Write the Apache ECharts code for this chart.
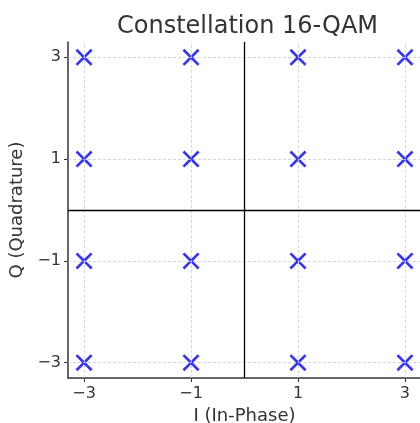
<!DOCTYPE html>
<html>
<head>
<meta charset="utf-8">
<script src="https://cdn.jsdelivr.net/npm/echarts@6/dist/echarts.min.js"></script>
<style>
html,body{margin:0;padding:0;background:#fff;overflow:hidden;}
#chart{width:420px;height:423px;}
</style>
</head>
<body>
<div id="chart"></div>
<script>
// Data
const pointsI = [-3, -3, -3, -3, -1, -1, -1, -1, 1, 1, 1, 1, 3, 3, 3, 3];
const pointsQ = [-3, -1, 1, 3, -3, -1, 1, 3, -3, -1, 1, 3, -3, -1, 1, 3];
const tickValues = [-3, -1, 1, 3];
const tickLabels = ['\u22123', '\u22121', '1', '3'];
const titleText = 'Constellation 16-QAM';
const xName = 'I (In-Phase)';
const yName = 'Q (Quadrature)';

const FONT = 'DejaVu Sans';
const TXT = '#333333';
const labelFor = v => {
  const i = tickValues.indexOf(v);
  return i >= 0 ? tickLabels[i] : '';
};
const xMark = 'path://M0,11 L11,0 L50,39 L89,0 L100,11 L61,50 L100,89 L89,100 L50,61 L11,100 L0,89 L39,50 Z';

const gridLineData = [];
tickValues.forEach(v => { gridLineData.push({xAxis: v}); gridLineData.push({yAxis: v}); });

function axisCommon(name, gap, margin) {
  return {
    type: 'value', min: -3.3, max: 3.3,
    name: name, nameLocation: 'middle', nameGap: gap,
    nameTextStyle: {fontFamily: FONT, fontSize: 18, color: TXT},
    axisLine: {show: true, onZero: false, lineStyle: {color: '#333333', width: 1.5}},
    axisTick: {show: true, customValues: tickValues, length: 4, lineStyle: {color: '#333333', width: 1}},
    axisLabel: {customValues: tickValues, formatter: labelFor, fontFamily: FONT, fontSize: 16, color: TXT, margin: margin},
    splitLine: {show: false}
  };
}

const chart = echarts.init(document.getElementById('chart'), null, {renderer: 'canvas'});
chart.setOption({
  animation: false,
  backgroundColor: '#ffffff',
  title: {
    text: titleText, left: 112, top: 10,
    textStyle: {fontFamily: FONT, fontSize: 24, fontWeight: 'normal', color: TXT}
  },
  grid: {left: 68, right: -1, top: 42, bottom: 45, containLabel: false, outerBoundsMode: 'none'},
  xAxis: axisCommon(xName, 26, 8),
  yAxis: axisCommon(yName, 37, 7),
  series: [
    {
      type: 'line', data: [], silent: true,
      markLine: {
        silent: true, symbol: 'none', label: {show: false}, animation: false,
        lineStyle: {color: '#cccccc', type: [3, 2], width: 0.8},
        emphasis: {disabled: true},
        data: gridLineData
      }
    },
    {
      type: 'line', data: [], silent: true,
      markLine: {
        silent: true, symbol: 'none', label: {show: false}, animation: false,
        lineStyle: {color: '#000000', type: 'solid', width: 1.3},
        emphasis: {disabled: true},
        data: [{xAxis: 0}, {yAxis: 0}]
      }
    },
    {
      type: 'scatter', clip: false,
      symbol: xMark, symbolSize: 17,
      itemStyle: {color: '#0000ff'},
      data: pointsI.map((v, i) => [v, pointsQ[i]])
    }
  ]
});
</script>
</body>
</html>
